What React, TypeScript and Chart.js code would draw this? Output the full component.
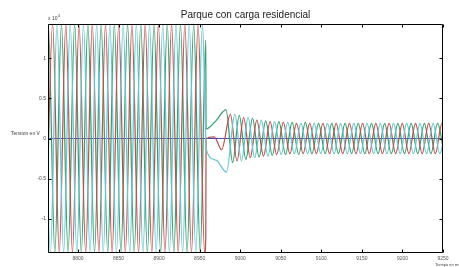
import { useEffect, useRef } from "react";
import { Chart, registerables } from "chart.js";

Chart.register(...registerables);

const chartTitle = "Parque con carga residencial";
const yAxisLabel = "Tension en V";
const xAxisLabel = "Tiempo en ms";
const exponentBase = "x 10";
const exponentPower = "4";

const xTickValues = [8800, 8850, 8900, 8950, 9000, 9050, 9100, 9150, 9200, 9250];
const yTickValues = [-1, -0.5, 0, 0.5, 1];
const xLimits = [8763, 9250];
const yLimits = [-1.43, 1.43];

// values in units of 10^4 V
const greenPre: [number, number][] = [
  [8755.15, -1.43], [8763.3, 1.43], [8771.45, -1.43], [8779.6, 1.43], [8787.75, -1.43], [8795.9, 1.43],
  [8804.05, -1.43], [8812.2, 1.43], [8820.35, -1.43], [8828.5, 1.43], [8836.65, -1.43], [8844.8, 1.43],
  [8852.95, -1.43], [8861.1, 1.43], [8869.25, -1.43], [8877.4, 1.43], [8885.55, -1.43], [8893.7, 1.43],
  [8901.85, -1.43], [8910, 1.43], [8918.15, -1.43], [8926.3, 1.43], [8934.45, -1.43], [8942.6, 1.43],
  [8950.75, -1.43], [8957.5, 1.23],
];
const greenPost: [number, number][] = [
  [8957.9, 0.12], [8970, 0.22], [8982.5, 0.36], [8990.65, -0.3], [8998.8, 0.29], [9006.95, -0.26],
  [9015.1, 0.25], [9023.25, -0.23], [9031.4, 0.22], [9039.55, -0.21], [9047.7, 0.21], [9055.85, -0.2],
  [9064, 0.2], [9072.15, -0.2], [9080.3, 0.2], [9088.45, -0.19], [9096.6, 0.19], [9104.75, -0.19],
  [9112.9, 0.19], [9121.05, -0.19], [9129.2, 0.19], [9137.35, -0.19], [9145.5, 0.19], [9153.65, -0.19],
  [9161.8, 0.19], [9169.95, -0.19], [9178.1, 0.19], [9186.25, -0.19], [9194.4, 0.19], [9202.55, -0.19],
  [9210.7, 0.19], [9218.85, -0.19], [9227, 0.19], [9235.15, -0.19], [9243.3, 0.19], [9251.45, -0.19],
];

const redPre: [number, number][] = [
  [8760.55, -1.43], [8768.7, 1.43], [8776.85, -1.43], [8785, 1.43], [8793.15, -1.43], [8801.3, 1.43],
  [8809.45, -1.43], [8817.6, 1.43], [8825.75, -1.43], [8833.9, 1.43], [8842.05, -1.43], [8850.2, 1.43],
  [8858.35, -1.43], [8866.5, 1.43], [8874.65, -1.43], [8882.8, 1.43], [8890.95, -1.43], [8899.1, 1.43],
  [8907.25, -1.43], [8915.4, 1.43], [8923.55, -1.43], [8931.7, 1.43], [8939.85, -1.43], [8948, 1.43],
  [8956.15, -1.43], [8957.5, -1.24],
];
const redPost: [number, number][] = [
  [8957.9, 0.0], [8968, 0.02], [8977, -0.14], [8987.9, 0.3], [8996.05, -0.28], [9004.2, 0.26],
  [9012.35, -0.24], [9020.5, 0.23], [9028.65, -0.22], [9036.8, 0.21], [9044.95, -0.2], [9053.1, 0.2],
  [9061.25, -0.19], [9069.4, 0.19], [9077.55, -0.19], [9085.7, 0.19], [9093.85, -0.19], [9102, 0.19],
  [9110.15, -0.19], [9118.3, 0.19], [9126.45, -0.19], [9134.6, 0.19], [9142.75, -0.19], [9150.9, 0.19],
  [9159.05, -0.19], [9167.2, 0.19], [9175.35, -0.19], [9183.5, 0.19], [9191.65, -0.19], [9199.8, 0.19],
  [9207.95, -0.19], [9216.1, 0.19], [9224.25, -0.19], [9232.4, 0.19], [9240.55, -0.19], [9248.7, 0.19],
  [9256.85, -0.19],
];

const cyanPre: [number, number][] = [
  [8757.8, 1.43], [8765.95, -1.43], [8774.1, 1.43], [8782.25, -1.43], [8790.4, 1.43], [8798.55, -1.43],
  [8806.7, 1.43], [8814.85, -1.43], [8823, 1.43], [8831.15, -1.43], [8839.3, 1.43], [8847.45, -1.43],
  [8855.6, 1.43], [8863.75, -1.43], [8871.9, 1.43], [8880.05, -1.43], [8888.2, 1.43], [8896.35, -1.43],
  [8904.5, 1.43], [8912.65, -1.43], [8920.8, 1.43], [8928.95, -1.43], [8937.1, 1.43], [8945.25, -1.43],
  [8953.4, 1.43], [8957.5, 0.0],
];
const cyanPost: [number, number][] = [
  [8957.9, -0.13], [8970, -0.27], [8983, -0.42], [8993.4, 0.3], [9001.55, -0.28], [9009.7, 0.26],
  [9017.85, -0.24], [9026, 0.23], [9034.15, -0.22], [9042.3, 0.21], [9050.45, -0.2], [9058.6, 0.2],
  [9066.75, -0.19], [9074.9, 0.19], [9083.05, -0.19], [9091.2, 0.19], [9099.35, -0.19], [9107.5, 0.19],
  [9115.65, -0.19], [9123.8, 0.19], [9131.95, -0.19], [9140.1, 0.19], [9148.25, -0.19], [9156.4, 0.19],
  [9164.55, -0.19], [9172.7, 0.19], [9180.85, -0.19], [9189, 0.19], [9197.15, -0.19], [9205.3, 0.19],
  [9213.45, -0.19], [9221.6, 0.19], [9229.75, -0.19], [9237.9, 0.19], [9246.05, -0.19], [9254.2, 0.19],
];

const zeroLine: [number, number][] = [[8763, 0], [9250, 0]];

const toXY = (pts: [number, number][]) => pts.map(([x, y]) => ({ x, y }));

const FONT = '"Liberation Sans", Arial, sans-serif';

const decoPlugin = {
  id: "deco",
  afterDraw(chart: any) {
    const { ctx, chartArea: a, scales } = chart;
    const xs = scales.x;
    const ys = scales.y;
    ctx.save();
    ctx.strokeStyle = "#000";
    ctx.lineWidth = 1;
    const L = Math.round(a.left) + 0.5;
    const R = Math.round(a.right) - 0.5;
    const T = Math.round(a.top) + 0.5;
    const B = Math.round(a.bottom) - 0.5;
    ctx.beginPath();
    ctx.rect(L, T, R - L, B - T);
    ctx.stroke();
    const tl = 3;
    ctx.beginPath();
    for (const v of xTickValues) {
      const px = Math.round(xs.getPixelForValue(v)) + 0.5;
      ctx.moveTo(px, B);
      ctx.lineTo(px, B - tl);
      ctx.moveTo(px, T);
      ctx.lineTo(px, T + tl);
    }
    for (const v of yTickValues) {
      const py = Math.round(ys.getPixelForValue(v)) + 0.5;
      ctx.moveTo(L, py);
      ctx.lineTo(L + tl, py);
      ctx.moveTo(R, py);
      ctx.lineTo(R - tl, py);
    }
    ctx.stroke();

    ctx.fillStyle = "#222";
    ctx.font = `10px ${FONT}`;
    ctx.textAlign = "center";
    ctx.textBaseline = "alphabetic";
    ctx.fillText(chartTitle, (a.left + a.right) / 2, 18);

    ctx.fillStyle = "#444";
    ctx.font = `5px ${FONT}`;
    ctx.textAlign = "left";
    ctx.textBaseline = "middle";
    ctx.fillText(yAxisLabel, 11, ys.getPixelForValue(0) - 5);

    ctx.textBaseline = "alphabetic";
    ctx.fillText(exponentBase, a.left, 20);
    const w = ctx.measureText(exponentBase).width;
    ctx.font = `4px ${FONT}`;
    ctx.fillText(exponentPower, a.left + w + 0.5, 17);

    ctx.font = `4px ${FONT}`;
    ctx.fillText(xAxisLabel, a.right - 8, 266);
    ctx.restore();
  },
};

export default function App() {
  const ref = useRef<HTMLCanvasElement | null>(null);
  useEffect(() => {
    document.body.style.margin = "0";
    const canvas = ref.current;
    if (!canvas) return;
    const line = (data: [number, number][], color: string, width = 1.25) => ({
      data: toXY(data),
      borderColor: color,
      borderWidth: width,
      pointRadius: 0,
      fill: false,
      cubicInterpolationMode: "monotone" as const,
    });
    const chart = new Chart(canvas, {
      type: "line",
      data: {
        datasets: [
          line([...cyanPre, ...cyanPost], "#62c8d4"),
          line([...redPre, ...redPost], "#c4504c"),
          line([...greenPre, ...greenPost], "#35a070"),
          line(zeroLine, "#5048c0", 1),
        ],
      },
      options: {
        animation: false,
        responsive: false,
        maintainAspectRatio: false,
        events: [],
        layout: { padding: { top: 24, right: 16, left: 0, bottom: 0 } },
        plugins: { legend: { display: false }, tooltip: { enabled: false }, title: { display: false } },
        scales: {
          x: {
            type: "linear",
            min: xLimits[0],
            max: xLimits[1],
            grid: { display: false, drawTicks: false },
            border: { display: false },
            afterBuildTicks: (s: any) => {
              s.ticks = xTickValues.map((v) => ({ value: v }));
            },
            afterFit: (s: any) => {
              s.height = 14;
            },
            ticks: {
              padding: 3,
              maxRotation: 0,
              autoSkip: false,
              color: "#555",
              font: { family: FONT, size: 5 },
              callback: (v: any) => String(v),
            },
          },
          y: {
            type: "linear",
            min: yLimits[0],
            max: yLimits[1],
            grid: { display: false, drawTicks: false },
            border: { display: false },
            afterBuildTicks: (s: any) => {
              s.ticks = yTickValues.map((v) => ({ value: v }));
            },
            afterFit: (s: any) => {
              s.width = 48;
            },
            ticks: {
              padding: 2,
              autoSkip: false,
              color: "#444",
              font: { family: FONT, size: 5 },
              callback: (v: any) => String(v),
            },
          },
        },
      },
      plugins: [decoPlugin],
    });
    return () => chart.destroy();
  }, []);
  return <canvas ref={ref} width={459} height={267} style={{ display: "block" }} />;
}
